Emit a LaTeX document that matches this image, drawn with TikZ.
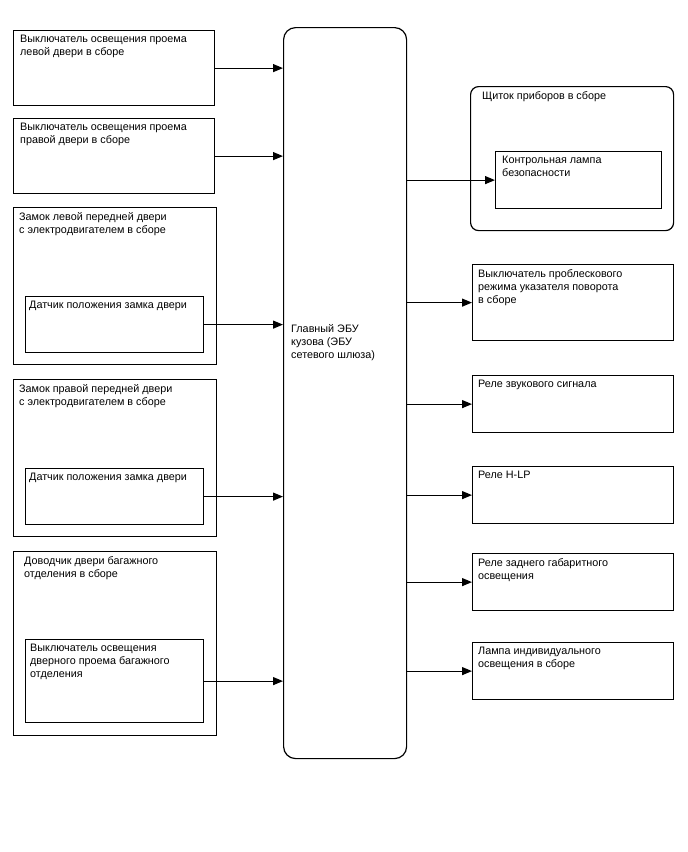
\documentclass[tikz,border=0pt]{standalone}
\usepackage{fontspec}
\setmainfont{Liberation Sans}
\usepackage{tikz}
\usetikzlibrary{arrows.meta, positioning, calc}

\tikzset{
  blk/.style={draw, line width=1.2pt, inner sep=0pt, anchor=north west},
  txt/.style={anchor=north west, align=left, inner sep=0pt,
              font=\fontsize{10.8}{13}\selectfont},
  sig/.style={line width=1.2pt, -{Triangle[length=10pt,width=8pt]}},
}

\begin{document}
\begin{tikzpicture}[x=1pt,y=-1pt]
\useasboundingbox (0,0) rectangle (688,852);

% Main body ECU
\node[blk, rounded corners=12pt, minimum width=123pt, minimum height=731pt] (ecu) at (283,27) {};
\node[txt] (ecut) at (291,324) {Главный ЭБУ\\кузова (ЭБУ\\сетевого шлюза)};

% Left: door courtesy switches
\node[blk, minimum width=201pt, minimum height=75pt] (lsw) at (13,30) {};
\node[txt] (lswt) at ([shift={(7,5)}]lsw.north west) {Выключатель освещения проема\\левой двери в сборе};
\node[blk, minimum width=201pt, minimum height=75pt] (rsw) at (13,118) {};
\node[txt] (rswt) at ([shift={(7,5)}]rsw.north west) {Выключатель освещения проема\\правой двери в сборе};

% Left: door lock motors with position sensors
\node[blk, minimum width=203pt, minimum height=157pt] (llock) at (13,207) {};
\node[txt] (llockt) at ([shift={(6,5)}]llock.north west) {Замок левой передней двери\\с электродвигателем в сборе};
\node[blk, minimum width=178pt, minimum height=56pt] (lpos) at (25,296) {};
\node[txt] (lpost) at ([shift={(4,5)}]lpos.north west) {Датчик положения замка двери};

\node[blk, minimum width=203pt, minimum height=157pt] (rlock) at (13,379) {};
\node[txt] (rlockt) at ([shift={(6,5)}]rlock.north west) {Замок правой передней двери\\с электродвигателем в сборе};
\node[blk, minimum width=178pt, minimum height=56pt] (rpos) at (25,468) {};
\node[txt] (rpost) at ([shift={(4,5)}]rpos.north west) {Датчик положения замка двери};

% Left: back door closer
\node[blk, minimum width=203pt, minimum height=184pt] (bdc) at (13,551) {};
\node[txt] (bdct) at ([shift={(11,5)}]bdc.north west) {Доводчик двери багажного\\отделения в сборе};
\node[blk, minimum width=178pt, minimum height=83pt] (bsw) at (25,639) {};
\node[txt] (bswt) at ([shift={(5,5)}]bsw.north west) {Выключатель освещения\\дверного проема багажного\\отделения};

% Right: combination meter
\node[blk, rounded corners=8pt, minimum width=203pt, minimum height=144pt] (meter) at (470,86) {};
\node[txt] (metert) at ([shift={(12,5)}]meter.north west) {Щиток приборов в сборе};
\node[blk, minimum width=166pt, minimum height=57pt] (lamp) at (495,151) {};
\node[txt] (lampt) at ([shift={(7,5)}]lamp.north west) {Контрольная лампа\\безопасности};

% Right: outputs
\node[blk, minimum width=201pt, minimum height=76pt] (turn) at (472,264) {};
\node[txt] (turnt) at ([shift={(6,5)}]turn.north west) {Выключатель проблескового\\режима указателя поворота\\в сборе};
\foreach \n/\y/\t in {horn/375/{Реле звукового сигнала},
                      hlp/466/{Реле H-LP},
                      tail/553/{Реле заднего габаритного\\освещения},
                      room/642/{Лампа индивидуального\\освещения в сборе}}{
  \node[blk, minimum width=201pt, minimum height=57pt] (\n) at (472,\y) {};
  \node[txt] (\n t) at ([shift={(6,5)}]\n.north west) {\t};
}

% Inputs to ECU
\foreach \n in {lsw, rsw, lpos, rpos, bsw}
  \draw[sig] (\n.east) -- (\n.east -| ecu.west);

% Outputs from ECU
\foreach \n in {lamp, turn, horn, hlp, tail, room}
  \draw[sig] (\n.west -| ecu.east) -- (\n.west);
\end{tikzpicture}
\end{document}
